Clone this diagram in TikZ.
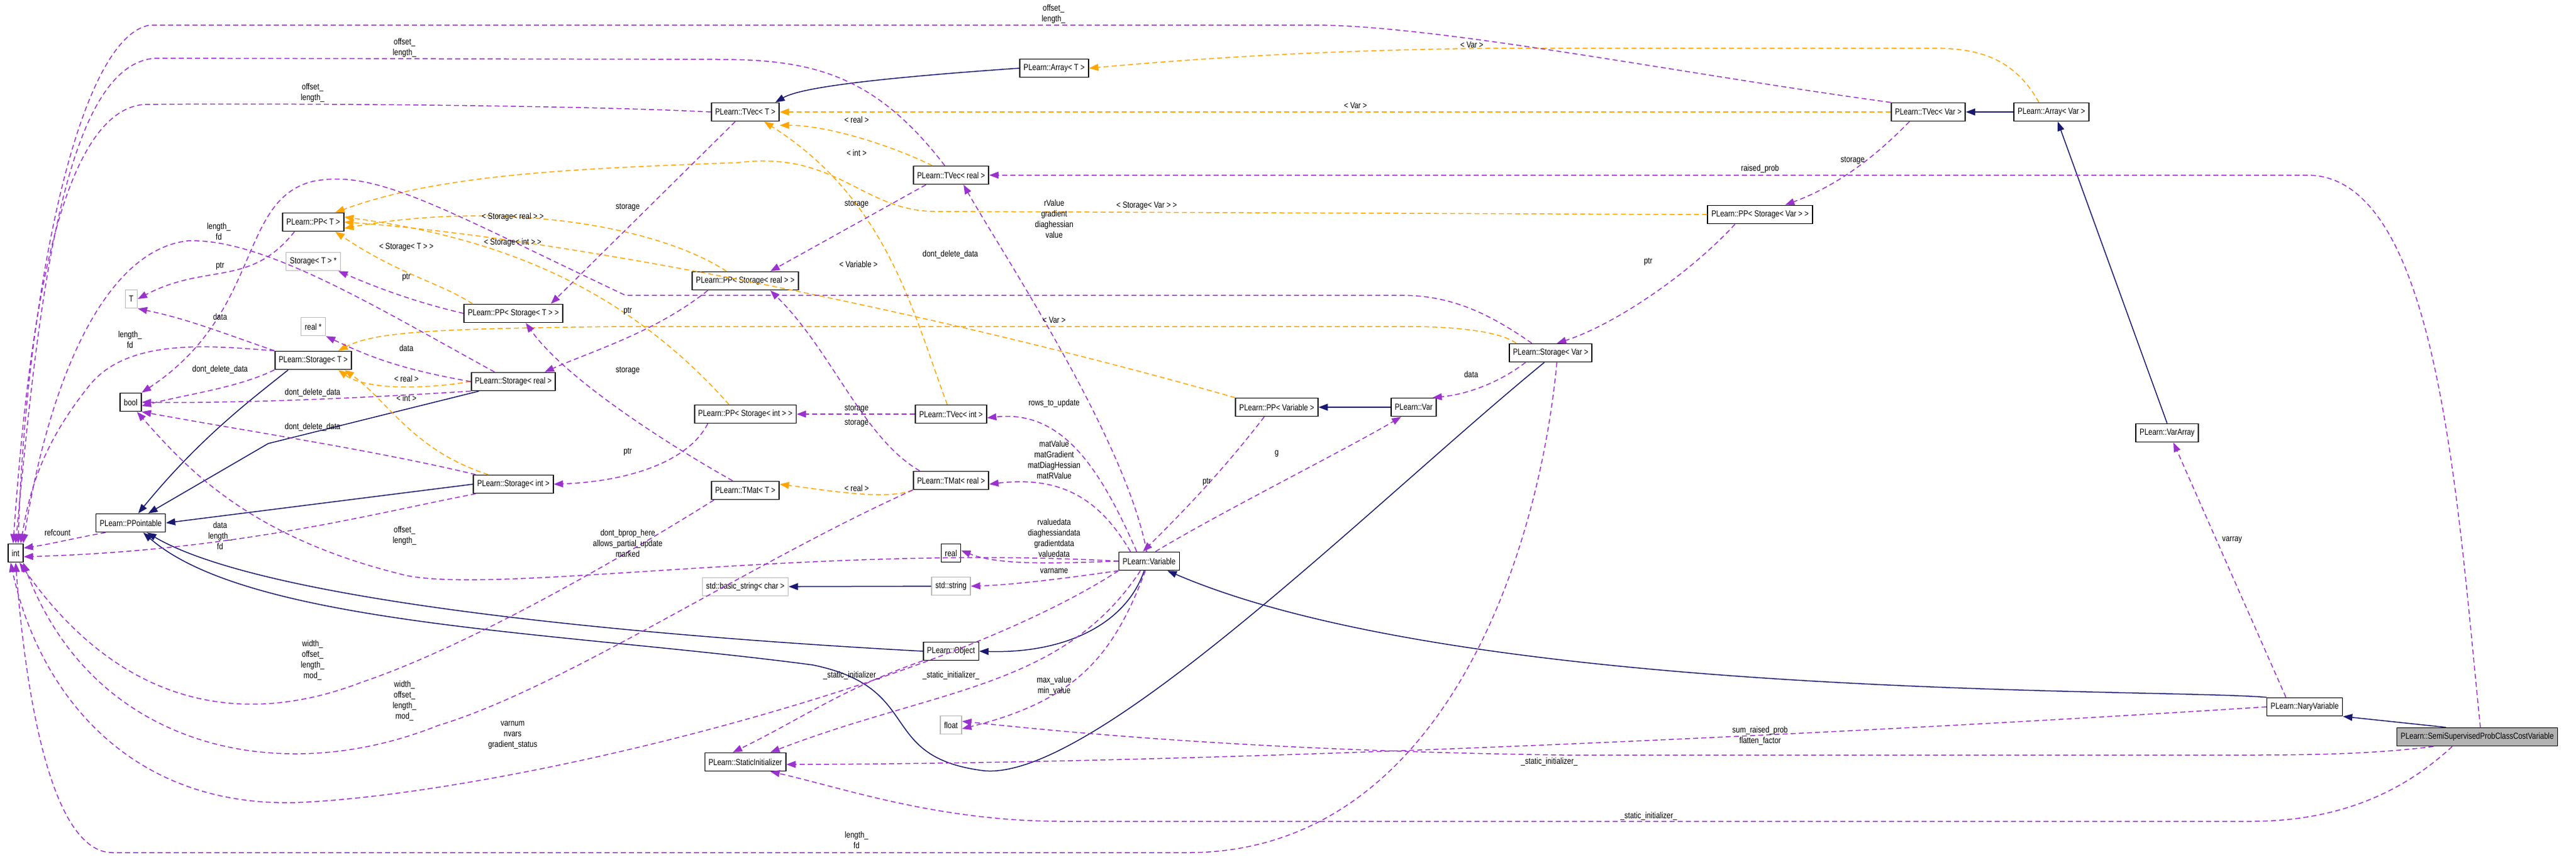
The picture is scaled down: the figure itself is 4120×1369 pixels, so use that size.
\documentclass[tikz,border=0pt]{standalone}
\usepackage{fontspec}
\usepackage{tikz}
\usetikzlibrary{arrows.meta,positioning}
\newfontfamily\dotfont[FakeStretch=0.82]{Liberation Sans}
\definecolor{inhblue}{HTML}{191970}
\definecolor{usepurple}{HTML}{9A32CD}
\definecolor{tplorange}{HTML}{FFA500}

\begin{document}
\begin{tikzpicture}[x=1pt,y=-1pt,
    cls/.style = {draw=black, fill=white, line width=1.6, minimum height=29, inner xsep=6, inner ysep=2,
            font=\dotfont\fontsize{14}{16}\selectfont},
    ext/.style = {cls, draw=gray!55},
    focus/.style = {cls, fill=gray!60},
    lbl/.style = {align=center, inner sep=1pt, font=\dotfont\fontsize{14}{17}\selectfont},
    inh/.style = {draw=inhblue, line width=1.5, -{Triangle[length=15,width=11]}},
    use/.style = {draw=usepurple, line width=1.5, dash pattern=on 8 off 5, -{Triangle[length=15,width=11]}},
    tpl/.style = {draw=tplorange, line width=1.5, dash pattern=on 8 off 5, -{Triangle[length=15,width=11]}}]
        \useasboundingbox (0,0) rectangle (4120,1369);
        % classes
        \node [cls] (tvecT) at (1192,179) {PLearn::TVec< T >};
        \node [cls] (arrayT) at (1686,109) {PLearn::Array< T >};
        \node [cls] (tvecReal) at (1521,280) {PLearn::TVec< real >};
        \node [cls] (tvecVar) at (3084,179) {PLearn::TVec< Var >};
        \node [cls] (arrayVar) at (3281,179) {PLearn::Array< Var >};
        \node [cls] (ppT) at (501,355) {PLearn::PP< T >};
        \node [cls] (ppSVar) at (2815,343) {PLearn::PP< Storage< Var > >};
        \node [ext] (storageTptr) at (501,418) {Storage< T > *};
        \node [ext] (tT) at (210,478) {T};
        \node [cls] (ppST) at (821,501) {PLearn::PP< Storage< T > >};
        \node [cls] (ppSReal) at (1192,449) {PLearn::PP< Storage< real > >};
        \node [ext] (realPtr) at (501,522) {real *};
        \node [cls] (storageT) at (501,576) {PLearn::Storage< T >};
        \node [cls] (storageReal) at (821,610) {PLearn::Storage< real >};
        \node [cls] (storageVar) at (2480,564) {PLearn::Storage< Var >};
        \node [cls] (bool) at (209,643) {bool};
        \node [cls] (ppSInt) at (1192,662) {PLearn::PP< Storage< int > >};
        \node [cls] (ppVariable) at (2042,651) {PLearn::PP< Variable >};
        \node [cls] (var) at (2261,651) {PLearn::Var};
        \node [cls] (tvecInt) at (1521,662) {PLearn::TVec< int >};
        \node [cls] (storageInt) at (821,774) {PLearn::Storage< int >};
        \node [cls] (tmatT) at (1192,784) {PLearn::TMat< T >};
        \node [cls] (tmatReal) at (1521,768) {PLearn::TMat< real >};
        \node [cls] (ppointable) at (209,836) {PLearn::PPointable};
        \node [cls] (int) at (25,884) {int};
        \node [cls] (real) at (1521,884) {real};
        \node [cls] (variable) at (1838,897) {PLearn::Variable};
        \node [ext] (basicString) at (1192,938) {std::basic\_string< char >};
        \node [ext] (stdString) at (1521,937) {std::string};
        \node [cls] (object) at (1521,1041) {PLearn::Object};
        \node [ext] (float) at (1521,1159) {float};
        \node [cls] (staticInit) at (1192,1218) {PLearn::StaticInitializer};
        \node [cls] (varArray) at (3466,692) {PLearn::VarArray};
        \node [cls] (nary) at (3686,1130) {PLearn::NaryVariable};
        \node [focus] (semi) at (3962,1178) {PLearn::SemiSupervisedProbClassCostVariable};

        % inheritance
        \draw [inh] (arrayT.west) .. controls (1400,125) and (1280,140) .. ([xshift=48]tvecT.north);
        \draw [inh] (arrayVar) -- (tvecVar);
        \draw [inh] (varArray.north) -- ([xshift=10]arrayVar.south);
        \draw [inh] (var) -- (ppVariable);
        \draw [inh] ([xshift=-40]storageT.south) .. controls (400,640) and (320,700) .. ([xshift=12]ppointable.north);
        \draw [inh] ([xshift=-55]storageReal.south) -- (429,709) -- ([xshift=28]ppointable.north);
        \draw [inh] (storageInt.west) -- (ppointable.east);
        \draw [inh] (object.west) .. controls (1000,1015) and (420,960) .. ([xshift=26]ppointable.south);
        \draw [inh] ([xshift=-10]storageVar.south) .. controls (2200,800) and (1750,1250) .. (1573,1232)
            .. controls (1400,1210) and (1480,1100) .. (1300,1063)
            .. controls (900,1010) and (400,1000) .. ([xshift=20]ppointable.south);
        \draw [inh] ([xshift=-8]variable.south) .. controls (1800,1000) and (1700,1045) .. (object.east);
        \draw [inh] (nary.north west) .. controls (3450,1100) and (2350,1120) .. ([xshift=-20]variable.south east);
        \draw [inh] ([xshift=-50]semi.north) -- (nary.south east);
        \draw [inh] (stdString) -- (basicString);

        % templates
        \draw [tpl] ([xshift=-30]tvecReal.north) .. controls (1420,230) and (1320,200) .. ([yshift=-6]tvecT.south east);
        \draw [tpl] ([xshift=-6]tvecInt.north) .. controls (1460,500) and (1420,320) .. ([xshift=30]tvecT.south);
        \draw [tpl] (tvecVar) -- (tvecT);
        \draw [tpl] ([xshift=-20]arrayVar.north) .. controls (3220,90) and (3160,77) .. (3090,77)
            -- (2400,77) .. controls (2100,80) and (1900,95) .. (arrayT.east);
        \draw [tpl] (tmatReal.south west) .. controls (1420,800) and (1330,785) .. ([yshift=10]tmatT.east);
        \draw [tpl] ([xshift=-30]ppSReal.north) .. controls (1050,360) and (800,320) .. ([yshift=-10]ppT.east);
        \draw [tpl] ([xshift=-26]ppSInt.north) .. controls (1000,460) and (800,380) .. ([yshift=8]ppT.east);
        \draw [tpl] ([xshift=-65]ppST.north) .. controls (700,450) and (640,440) .. ([xshift=35]ppT.south);
        \draw [tpl] (ppSVar.west) -- (1500,338) .. controls (1380,340) and (1340,240) .. (1180,260)
            .. controls (900,270) and (700,280) .. ([xshift=35]ppT.north);
        \draw [tpl] (ppVariable.north west) .. controls (1500,500) and (900,380) .. (ppT.east);
        \draw [tpl] (storageReal.west) .. controls (660,625) and (580,620) .. ([xshift=40]storageT.south);
        \draw [tpl] ([xshift=-40]storageInt.north) .. controls (660,720) and (620,640) .. ([xshift=50]storageT.south);
        \draw [tpl] ([xshift=-55]storageVar.north) .. controls (2400,530) and (2330,522) .. (2250,522)
            -- (1000,522) .. controls (700,525) and (600,530) .. ([xshift=40]storageT.north);

        % members
        \draw [use] ([xshift=-16]tvecT.south) -- ([xshift=60]ppST.north);
        \draw [use] (tvecT.west) .. controls (900,167) and (400,165) .. (230,167)
            .. controls (80,180) and (40,600) .. ([xshift=-4]int.north);
        \draw [use] ([xshift=-10]tvecReal.north) .. controls (1400,120) and (1300,95) .. (1150,95)
            -- (250,93) .. controls (100,100) and (60,500) .. (int.north);
        \draw [use] (tvecVar.north west) .. controls (2700,120) and (2300,40) .. (2100,40)
            -- (240,40) .. controls (120,60) and (40,500) .. ([xshift=4]int.north);
        \draw [use] ([xshift=-40]tvecReal.south) -- ([xshift=40]ppSReal.north);
        \draw [use] (tvecInt.west) -- (ppSInt.east);
        \draw [use] ([xshift=-50]tmatReal.north) .. controls (1380,700) and (1330,560) .. ([xshift=40]ppSReal.south);
        \draw [use] ([xshift=-20]tmatT.north) .. controls (1050,700) and (900,600) .. ([xshift=20]ppST.south);
        \draw [use] ([xshift=-30]ppT.south) .. controls (400,460) and (330,420) .. (tT.east);
        \draw [use] (ppST.west) .. controls (650,480) and (580,450) .. ([xshift=40]storageTptr.south);
        \draw [use] ([xshift=-60]ppSReal.south) .. controls (1050,530) and (950,560) .. ([xshift=50]storageReal.north);
        \draw [use] ([xshift=-60]ppSInt.south) .. controls (1100,740) and (1000,770) .. (storageInt.east);
        \draw [use] ([xshift=-40]ppSVar.south) .. controls (2700,440) and (2580,520) .. ([xshift=10]storageVar.north);
        \draw [use] ([xshift=-20]ppVariable.south) .. controls (1950,760) and (1880,830) .. ([xshift=-10]variable.north);
        \draw [use] ([xshift=10]variable.north) .. controls (1950,820) and (2150,720) .. ([xshift=-20]var.south);
        \draw [use] (storageT.north west) .. controls (350,530) and (300,510) .. (tT.south east);
        \draw [use] (storageReal.west) .. controls (640,590) and (590,570) .. (realPtr.south east);
        \draw [use] ([xshift=-40]storageVar.south) .. controls (2400,610) and (2350,630) .. ([xshift=30]var.north);
        \draw [use] (storageT.south west) .. controls (380,620) and (300,630) .. ([yshift=-6]bool.east);
        \draw [use] (storageReal.south west) .. controls (600,635) and (400,645) .. (bool.east);
        \draw [use] ([xshift=-60]storageInt.north) .. controls (600,720) and (400,690) .. (bool.south east);
        \draw [use] ([xshift=-30]storageVar.north) .. controls (2380,500) and (2320,472) .. (2240,472)
            -- (1000,472) .. controls (700,330) and (600,270) .. (500,290)
            .. controls (380,320) and (420,500) .. (bool.north east);
        \draw [use] (storageT.north west) .. controls (330,552) and (200,540) .. (140,620)
            .. controls (60,720) and (45,800) .. ([xshift=8]int.north);
        \draw [use] ([xshift=-30]storageReal.north) .. controls (600,490) and (420,380) .. (300,385)
            .. controls (170,400) and (80,600) .. ([xshift=12]int.north);
        \draw [use] ([xshift=-60]storageInt.south) .. controls (600,820) and (380,880) .. ([yshift=-6]int.east);
        \draw [use] ([xshift=10]storageVar.south) .. controls (2460,900) and (2300,1363) .. (1900,1363)
            -- (180,1363) .. controls (80,1363) and (40,1100) .. (int.south);
        \draw [use] ([xshift=-40]ppointable.south) .. controls (120,860) and (80,870) .. ([yshift=8]int.east);
        \draw [use] ([xshift=-50]tmatT.south) .. controls (900,950) and (700,1050) .. (580,1090)
            .. controls (400,1160) and (200,1140) .. ([xshift=6]int.south);
        \draw [use] (tmatReal.south west) .. controls (1200,900) and (900,1100) .. (700,1160)
            .. controls (450,1260) and (150,1200) .. ([xshift=12]int.south);
        \draw [use] (variable.south west) .. controls (1500,1100) and (800,1270) .. (473,1283)
            .. controls (200,1290) and (60,1100) .. ([xshift=-8]int.south);
        \draw [use] (variable.west) .. controls (1300,870) and (800,950) .. (650,920)
            .. controls (400,860) and (300,750) .. ([xshift=10]bool.south);
        \draw [use] ([xshift=-4]variable.north) .. controls (1800,700) and (1600,400) .. ([xshift=20]tvecReal.south);
        \draw [use] ([xshift=-20]variable.north) .. controls (1760,750) and (1700,655) .. ([yshift=-6]tvecInt.east);
        \draw [use] ([xshift=-30]variable.north) .. controls (1760,800) and (1700,760) .. ([yshift=-6]tmatReal.east);
        \draw [use] (variable.west) .. controls (1700,900) and (1600,905) .. ([yshift=4]real.east);
        \draw [use] (variable.south west) .. controls (1700,925) and (1620,935) .. (stdString.east);
        \draw [use] ([xshift=-6]variable.south) .. controls (1780,1050) and (1720,1120) .. ([yshift=-6]float.east);
        \draw [use] ([xshift=-14]variable.south) .. controls (1700,1100) and (1500,1100) .. ([xshift=40]staticInit.north);
        \draw [use] (object.south west) .. controls (1350,1100) and (1280,1150) .. ([xshift=-20]staticInit.north);
        \draw [use] (nary.west) .. controls (3000,1170) and (2000,1220) .. ([yshift=-4]staticInit.east);
        \draw [use] ([xshift=-40]semi.south) .. controls (3850,1260) and (3750,1313) .. (3600,1313)
            -- (1700,1313) .. controls (1500,1313) and (1350,1260) .. ([xshift=40]staticInit.south);
        \draw [use] ([xshift=-70]semi.south) .. controls (3800,1205) and (3700,1207) .. (3600,1207)
            -- (2500,1207) .. controls (2000,1200) and (1700,1170) .. ([yshift=6]float.east);
        \draw [use] ([xshift=5]semi.north) .. controls (3930,800) and (3900,280) .. (3690,280)
            -- (tvecReal.east);
        \draw [use] ([xshift=-30]nary.north) -- ([xshift=10]varArray.south);
        \draw [use] ([xshift=-30]tvecVar.south) .. controls (2990,260) and (2930,300) .. ([xshift=40]ppSVar.north);

        % labels
        \node [lbl] (lOffTop) at (1685,22) {offset\_\\length\_};
        \node [lbl] (lOffReal) at (647,76) {offset\_\\length\_};
        \node [lbl] (lOffT) at (500,148) {offset\_\\length\_};
        \node [lbl] (lVarArr) at (2354,72) {< Var >};
        \node [lbl] (lVarVec) at (2168,169) {< Var >};
        \node [lbl] (lRealVec) at (1370,191) {< real >};
        \node [lbl] (lIntVec) at (1370,244) {< int >};
        \node [lbl] (lStorT) at (1004,331) {storage};
        \node [lbl] (lStorReal) at (1370,326) {storage};
        \node [lbl] (lSVar) at (1834,329) {< Storage< Var > >};
        \node [lbl] (lSReal) at (820,347) {< Storage< real > >};
        \node [lbl] (lSInt) at (820,388) {< Storage< int > >};
        \node [lbl] (lST) at (650,395) {< Storage< T > >};
        \node [lbl] (lValues) at (1686,350) {rValue\\gradient\\diaghessian\\value};
        \node [lbl] (lDddVar) at (1520,407) {dont\_delete\_data};
        \node [lbl] (lLenReal) at (350,370) {length\_\\fd};
        \node [lbl] (lPtrT) at (352,425) {ptr};
        \node [lbl] (lVariable) at (1373,422) {< Variable >};
        \node [lbl] (lPtrST) at (650,443) {ptr};
        \node [lbl] (lPtrSReal) at (1004,497) {ptr};
        \node [lbl] (lPtrSVar) at (2636,418) {ptr};
        \node [lbl] (lStorVec) at (2963,256) {storage};
        \node [lbl] (lRaised) at (2815,270) {raised\_prob};
        \node [lbl] (lDataT) at (352,506) {data};
        \node [lbl] (lVarStor) at (1686,512) {< Var >};
        \node [lbl] (lLenT) at (208,543) {length\_\\fd};
        \node [lbl] (lDataReal) at (650,556) {data};
        \node [lbl] (lDataVar) at (2353,598) {data};
        \node [lbl] (lDddT) at (352,591) {dont\_delete\_data};
        \node [lbl] (lStorTmat) at (1004,592) {storage};
        \node [lbl] (lRealStor) at (650,605) {< real >};
        \node [lbl] (lDddReal) at (500,628) {dont\_delete\_data};
        \node [lbl] (lIntStor) at (650,636) {< int >};
        \node [lbl] (lRows) at (1686,645) {rows\_to\_update};
        \node [lbl] (lStorInt) at (1370,653) {storage};
        \node [lbl] (lStorTmatR) at (1370,676) {storage};
        \node [lbl] (lDddInt) at (500,683) {dont\_delete\_data};
        \node [lbl] (lPtrSInt) at (1004,722) {ptr};
        \node [lbl] (lG) at (2042,725) {g};
        \node [lbl] (lMat) at (1686,735) {matValue\\matGradient\\matDiagHessian\\matRValue};
        \node [lbl] (lPtrVar) at (1930,770) {ptr};
        \node [lbl] (lRealTmat) at (1370,780) {< real >};
        \node [lbl] (lRefcount) at (92,851) {refcount};
        \node [lbl] (lDataInt) at (352,856) {data\\length\_\\fd};
        \node [lbl] (lOffInt) at (647,856) {offset\_\\length\_};
        \node [lbl] (lBprop) at (1004,868) {dont\_bprop\_here\\allows\_partial\_update\\marked};
        \node [lbl] (lRdata) at (1686,860) {rvaluedata\\diaghessiandata\\gradientdata\\valuedata};
        \node [lbl] (lVarname) at (1686,913) {varname};
        \node [lbl] (lVarray) at (3570,863) {varray};
        \node [lbl] (lWidthT) at (500,1055) {width\_\\offset\_\\length\_\\mod\_};
        \node [lbl] (lSiObj) at (1362,1080) {\_static\_initializer\_};
        \node [lbl] (lSiVar) at (1521,1080) {\_static\_initializer\_};
        \node [lbl] (lMinMax) at (1686,1096) {max\_value\\min\_value};
        \node [lbl] (lWidthR) at (647,1120) {width\_\\offset\_\\length\_\\mod\_};
        \node [lbl] (lVarnum) at (820,1175) {varnum\\nvars\\gradient\_status};
        \node [lbl] (lSumRaised) at (2815,1176) {sum\_raised\_prob\\flatten\_factor};
        \node [lbl] (lSiNary) at (2478,1218) {\_static\_initializer\_};
        \node [lbl] (lSiSemi) at (2637,1305) {\_static\_initializer\_};
        \node [lbl] (lLenVar) at (1370,1343) {length\_\\fd};
\end{tikzpicture}
\end{document}
